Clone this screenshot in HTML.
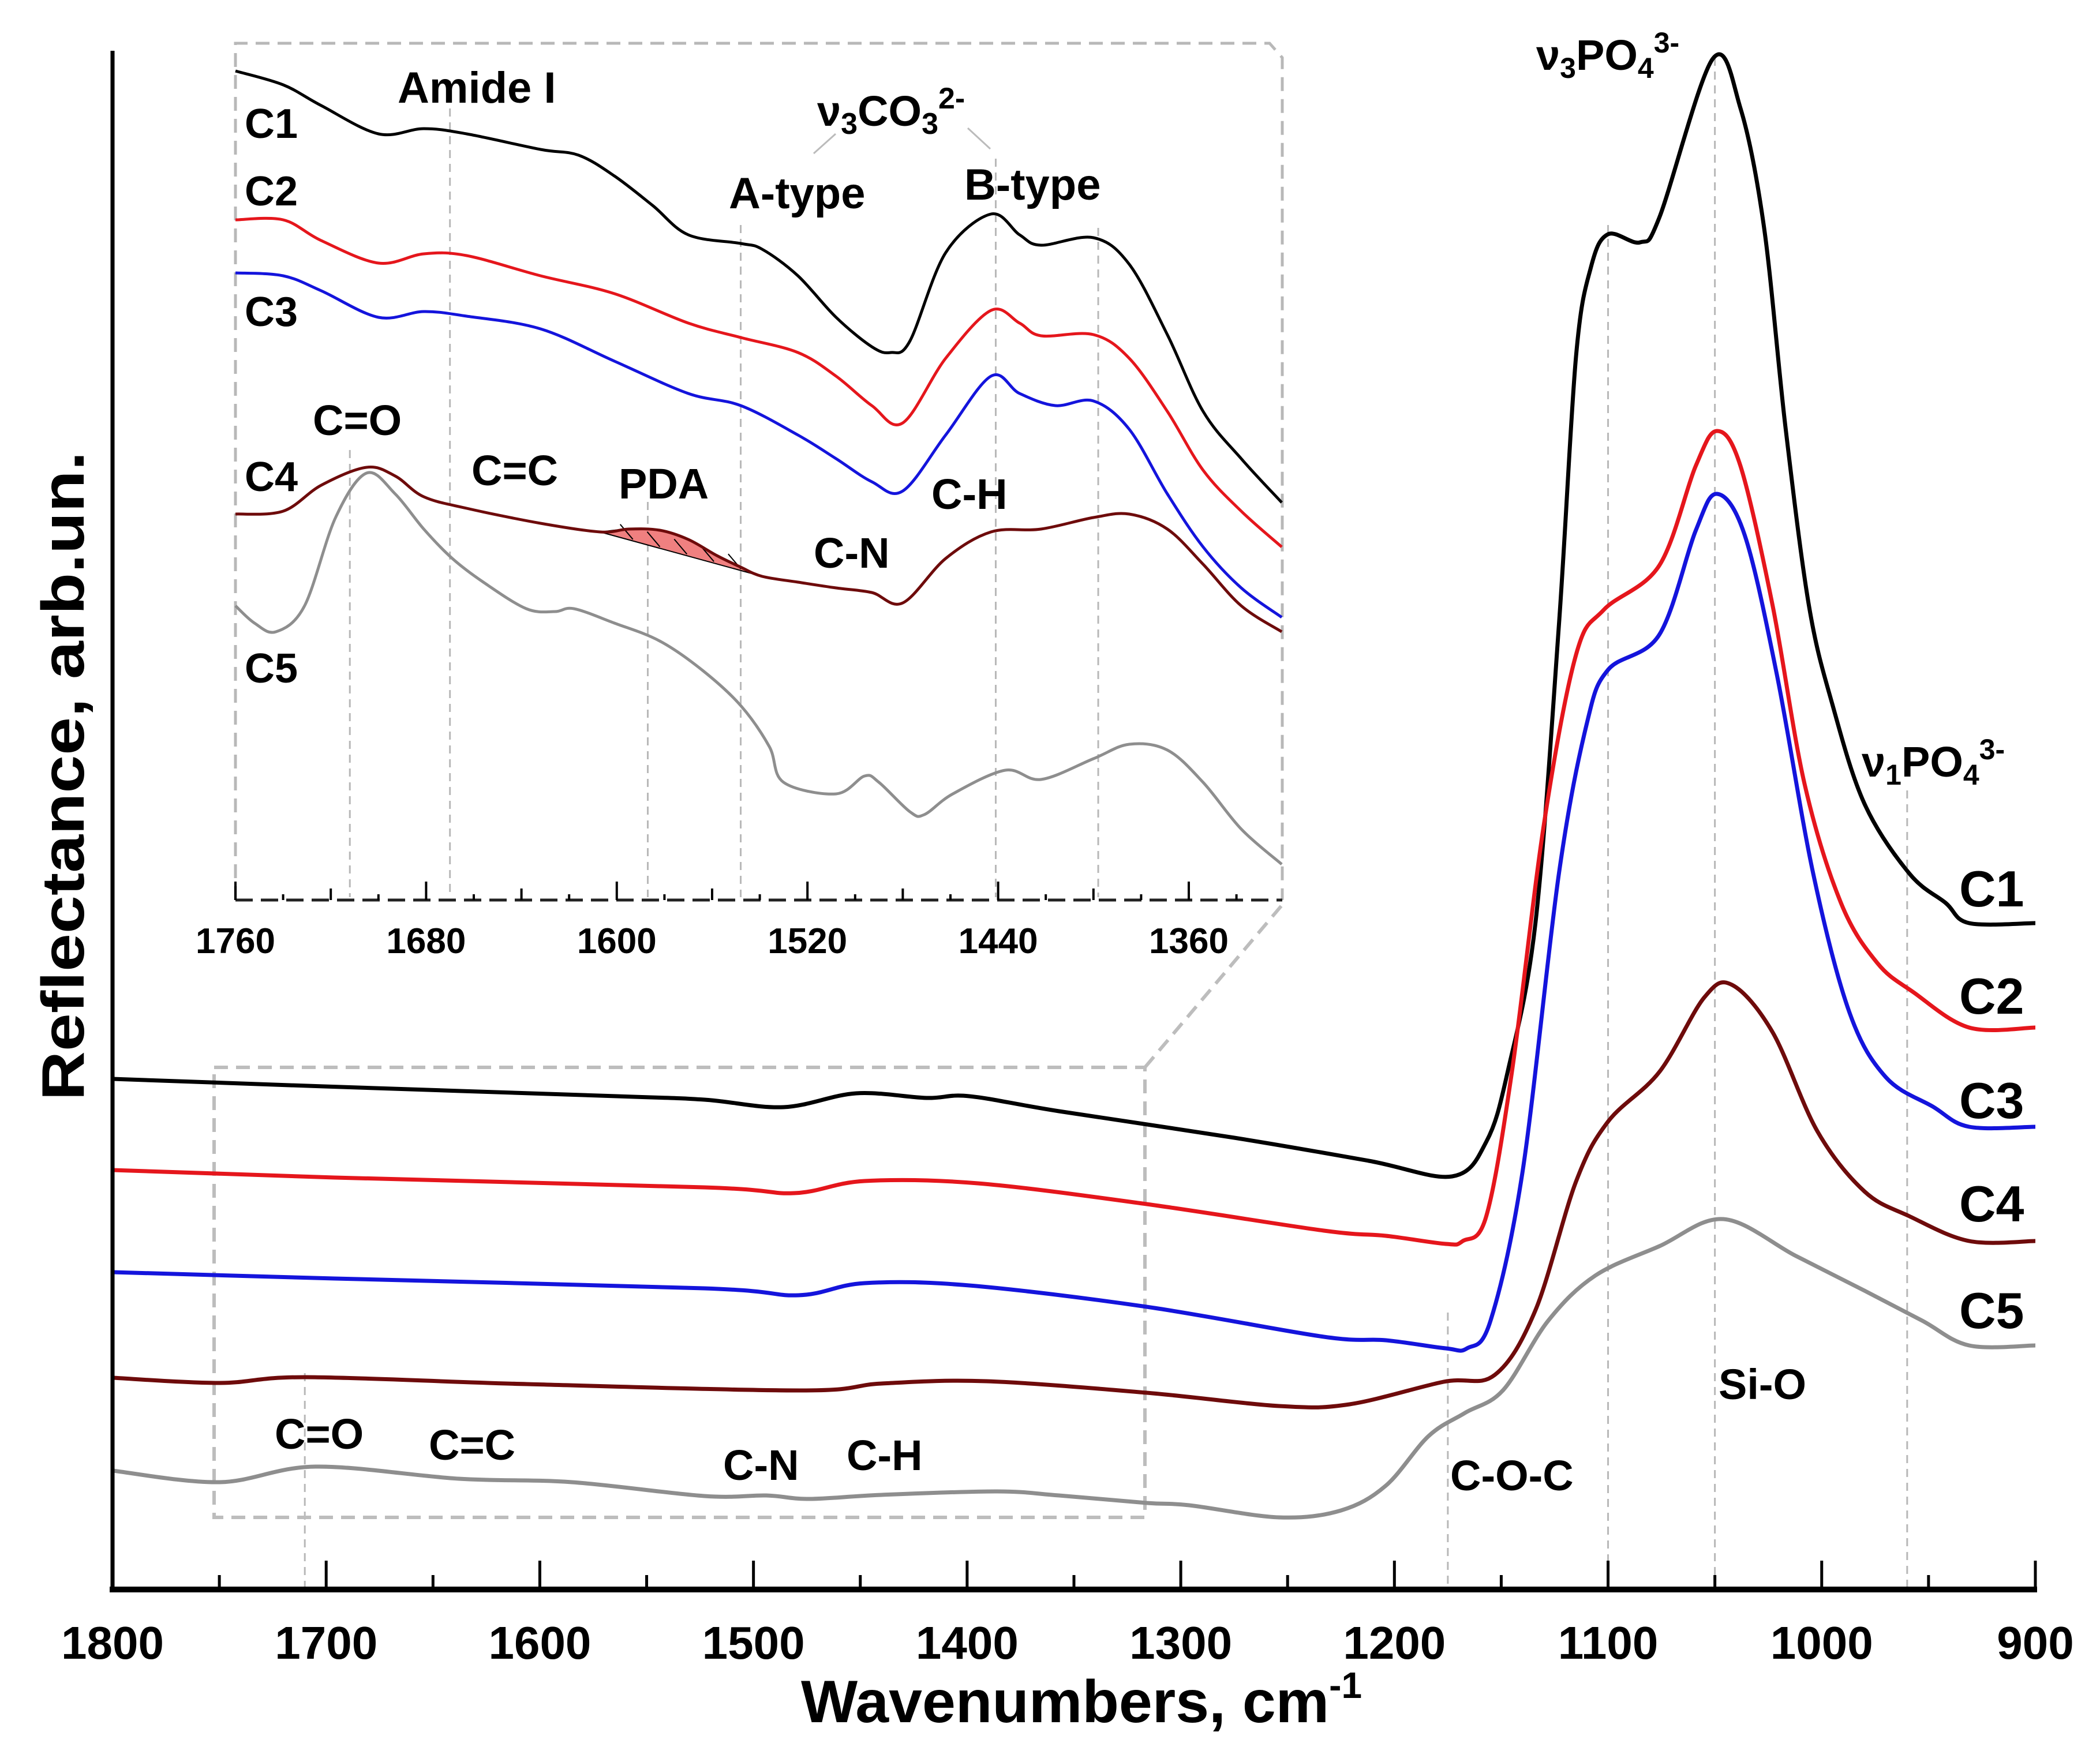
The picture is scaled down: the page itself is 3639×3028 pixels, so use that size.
<!DOCTYPE html>
<html><head><meta charset="utf-8"><style>
html,body{margin:0;padding:0;background:#fff;}
svg{display:block;font-family:"Liberation Sans",Arial,sans-serif;font-weight:bold;}
</style></head><body>
<svg id="chart" width="3639" height="3028" viewBox="0 0 3639 3028" xmlns="http://www.w3.org/2000/svg">
<g id="main"></g><g id="inset"></g>
</svg>
<script>
// ---- main chart data (wavenumber, reflectance arb. units) ----
const c1W=[1800,1701,1564,1523,1486,1452,1419,1399,1357,1275,1212,1173,1157,1147,1134,1123,1115,1108,1100,1085,1076,1051,1038,1027,1017,1006,995,980,959,942,931,900];
const c1V=[88.5,87.2,85.5,84.9,83.6,86.0,85.2,85.5,82.9,78.3,74.3,71.6,77.6,89.7,115.5,167.2,213.7,229.2,234.9,233.5,237.8,265.3,256.7,236.1,201.6,170.6,153.4,136.2,124.1,119.0,115.5,115.5];
const c2W=[1800,1696,1523,1481,1448,1395,1316,1233,1204,1176,1168,1157,1145,1130,1115,1102,1076,1059,1049,1038,1023,1008,991,974,957,931,900];
const c2V=[72.7,71.4,69.7,68.7,70.8,70.4,66.8,62.2,61.3,59.9,60.4,64.7,89.7,132.7,162.0,169.8,177.5,194.7,200.8,194.7,170.6,139.6,119.0,108.6,103.5,97.4,97.4];
const c3W=[1800,1696,1523,1479,1448,1399,1316,1233,1204,1176,1166,1155,1140,1123,1110,1100,1076,1059,1049,1036,1021,1004,987,970,948,931,900];
const c3V=[55.0,53.9,52.2,51.0,53.1,52.7,49.0,43.8,43.2,41.8,41.8,46.6,72.5,124.1,150.0,159.4,165.5,183.5,189.9,182.7,158.6,124.1,100.0,88.8,83.7,80.2,80.2];
const c4W=[1800,1750,1709,1606,1477,1440,1391,1316,1254,1221,1177,1153,1134,1115,1100,1076,1055,1042,1023,1002,980,959,931,900];
const c4V=[36.7,35.8,36.8,35.6,34.5,35.7,36.1,34.1,31.8,32.1,36.0,37.2,48.4,70.7,81.1,89.7,102.6,104.8,96.6,79.4,69.0,64.7,60.4,60.4];
const c5W=[1800,1750,1705,1638,1585,1523,1494,1474,1440,1386,1357,1316,1296,1254,1225,1204,1184,1167,1149,1128,1106,1076,1046,1012,980,953,931,900];
const c5V=[20.6,18.6,21.3,19.2,18.6,16.2,16.3,15.7,16.4,17.0,16.3,15.0,14.6,12.5,13.7,18.0,26.6,30.6,34.6,46.6,54.4,59.5,64.2,57.8,51.8,46.6,42.3,42.3];
const xTicks=[1800,1700,1600,1500,1400,1300,1200,1100,1000,900];
const seriesNames=["C1","C2","C3","C4","C5"];
// ---- inset data ----
const i1W=[1760,1740,1724,1700,1681,1663,1632,1616,1601,1585,1570,1548,1539,1524,1508,1493,1485,1477,1462,1443,1431,1422,1400,1385,1369,1354,1338,1321];
const i1V=[143.7,141.3,137.7,132.8,133.7,132.8,130.1,129.1,125.5,120.4,115.3,113.8,112.8,108.2,101.0,95.9,94.9,96.9,112.2,118.9,115.3,113.5,114.8,110.2,98.0,84.7,76.5,68.9];
const i2W=[1760,1740,1724,1700,1681,1663,1632,1601,1570,1548,1524,1508,1493,1480,1462,1443,1431,1422,1400,1385,1369,1354,1338,1321];
const i2V=[117.9,117.9,114.3,110.4,112.0,111.7,108.2,105.1,100.0,97.5,94.9,90.8,85.7,82.7,93.9,102.2,100.0,97.8,98.0,93.9,84.7,74.5,67.4,61.2];
const i3W=[1760,1740,1724,1700,1681,1663,1632,1601,1570,1548,1524,1508,1493,1480,1462,1443,1431,1416,1400,1385,1369,1354,1338,1321];
const i3V=[108.7,108.2,105.6,101.0,102.0,101.2,99.0,93.4,87.8,85.7,80.6,76.5,72.5,70.9,80.6,90.8,87.8,85.7,86.5,81.6,70.4,61.2,54.1,49.0];
const i4W=[1760,1740,1724,1705,1693,1681,1663,1632,1607,1595,1582,1570,1558,1548,1539,1524,1508,1493,1480,1462,1443,1422,1400,1385,1369,1354,1338,1321];
const i4V=[66.9,67.4,71.9,75.0,73.5,69.9,67.9,65.3,63.8,64.3,64.1,62.5,59.7,57.7,56.1,55.1,54.1,53.3,51.5,59.2,63.8,64.3,66.3,66.9,64.3,58.2,51.0,46.5];
const i5W=[1760,1752,1743,1731,1718,1705,1693,1681,1669,1656,1638,1626,1618,1601,1582,1564,1548,1536,1530,1508,1496,1490,1477,1471,1459,1437,1422,1400,1385,1369,1354,1338,1321];
const i5V=[51.0,48.0,46.5,51.0,66.3,74.0,70.4,64.3,59.2,55.1,50.5,50.0,50.5,48.0,44.9,39.8,33.7,26.6,20.4,18.4,21.5,20.4,15.3,14.8,18.4,22.5,20.9,24.5,27.0,26.0,20.4,12.3,6.2];
const insetTicks=[1760,1680,1600,1520,1440,1360];
const pdaRange=[1607,1539];

const NS="http://www.w3.org/2000/svg";
const colors=["#000000","#e5161c","#1414dc","#6e0b0b","#8e8e8e"];
function X(w){return 195+(1800-w)*3.7022;}
function Y(v){return 2755-v*10;}
function XI(w){return 408+(1760-w)*4.13;}
function YI(v){return 1560-v*10;}
function mk(parent,tag,attrs,name,inter){const e=document.createElementNS(NS,tag);for(const k in attrs)e.setAttribute(k,attrs[k]);


parent.appendChild(e);return e;}
function txt(parent,x,y,s,size,name,extra){const t=mk(parent,'text',Object.assign({x:x,y:y,'font-size':size,fill:'#000'},extra||{}),name,false);t.innerHTML=s;return t;}
function smooth(pts){let d='M'+pts[0][0].toFixed(1)+','+pts[0][1].toFixed(1);
for(let i=0;i<pts.length-1;i++){const p0=pts[Math.max(0,i-1)],p1=pts[i],p2=pts[i+1],p3=pts[Math.min(pts.length-1,i+2)];
const c1x=p1[0]+(p2[0]-p0[0])/6,c1y=p1[1]+(p2[1]-p0[1])/6,c2x=p2[0]-(p3[0]-p1[0])/6,c2y=p2[1]-(p3[1]-p1[1])/6;
d+=' C'+c1x.toFixed(1)+','+c1y.toFixed(1)+' '+c2x.toFixed(1)+','+c2y.toFixed(1)+' '+p2[0].toFixed(1)+','+p2[1].toFixed(1);}return d;}

const main=document.getElementById('main'), inset=document.getElementById('inset');
const dash={stroke:'#b8b8b8','stroke-width':3,'stroke-dasharray':'14,10',fill:'none'};
[[1710,2380],[1175,2275],[1100,390],[1050,100],[960,1370]].forEach((r,i)=>{
 mk(main,'line',Object.assign({x1:X(r[0]),x2:X(r[0]),y1:r[1],y2:2750},dash),'ref-line-'+r[0],false);});
mk(main,'rect',{x:371,y:1850,width:1613,height:780,fill:'none',stroke:'#bdbdbd','stroke-width':6,'stroke-dasharray':'24,14'},'zoom-region-box',false);
mk(main,'line',{x1:1984,y1:1850,x2:2223,y2:1567,stroke:'#bdbdbd','stroke-width':6,'stroke-dasharray':'24,14'},'zoom-connector',false);
const mW=[c1W,c2W,c3W,c4W,c5W],mV=[c1V,c2V,c3V,c4V,c5V];
for(let s=0;s<5;s++){const pts=mW[s].map((w,i)=>[X(w),Y(mV[s][i])]);
 mk(main,'path',{d:smooth(pts),stroke:colors[s],'stroke-width':7,fill:'none','stroke-linejoin':'round'},'series-'+seriesNames[s].toLowerCase(),false);}
const lblY=[1571,1757,1938,2117,2302];
seriesNames.forEach((n,i)=>txt(main,3395,lblY[i],n,88,'label-'+n.toLowerCase()));
mk(main,'line',{x1:195,y1:88,x2:195,y2:2760,stroke:'#000','stroke-width':7},'y-axis',false);
mk(main,'line',{x1:190,y1:2755,x2:3530,y2:2755,stroke:'#000','stroke-width':10},'x-axis',false);
for(let w=1800;w>=900;w-=50){const maj=(w%100===0);
 mk(main,'line',{x1:X(w),x2:X(w),y1:2755,y2:maj?2705:2730,stroke:'#000','stroke-width':5},'x-tick-'+w,false);}
xTicks.forEach(w=>txt(main,X(w),2875,w,80,'x-tick-label-'+w,{'text-anchor':'middle'}));
txt(main,1388,2985,'Wavenumbers, cm<tspan font-size="64" dy="-42">-1</tspan>',104,'x-axis-title',{});
txt(main,0,0,'Reflectance, arb.un.',104,'y-axis-title',{'text-anchor':'middle',textLength:1125,lengthAdjust:'spacingAndGlyphs',transform:'translate(145,1345) rotate(-90)'});
txt(main,2662,121,'ν<tspan font-size="50" dy="14">3</tspan><tspan dy="-14">PO</tspan><tspan font-size="50" dy="14">4</tspan><tspan font-size="50" dy="-44">3-</tspan>',74,'annotation-v3-po4');
txt(main,3226,1346,'ν<tspan font-size="50" dy="14">1</tspan><tspan dy="-14">PO</tspan><tspan font-size="50" dy="14">4</tspan><tspan font-size="50" dy="-44">3-</tspan>',74,'annotation-v1-po4');
txt(main,2978,2425,'Si-O',74,'annotation-si-o');
txt(main,2513,2583,'C-O-C',74,'annotation-c-o-c');
txt(main,476,2511,'C=O',74,'annotation-c-o-main');
txt(main,743,2530,'C=C',74,'annotation-c-c-main');
txt(main,1253,2565,'C-N',74,'annotation-c-n-main');
txt(main,1467,2548,'C-H',74,'annotation-c-h-main');

// ---- inset ----
const bd={stroke:'#b8b8b8','stroke-width':5,'stroke-dasharray':'24,14',fill:'none'};
mk(inset,'path',Object.assign({d:'M408,1560 L408,75 L2200,75 L2222,100 L2222,1560'},bd),'inset-border',false);
[[1712,780],[1670,140],[1587,870],[1548,390],[1441,275],[1398,395]].forEach(r=>{
 mk(inset,'line',Object.assign({x1:XI(r[0]),x2:XI(r[0]),y1:r[1],y2:1555},dash),'inset-ref-line-'+r[0],false);});
mk(inset,'line',{x1:1448,y1:232,x2:1410,y2:266,stroke:'#bbb','stroke-width':3},'co3-pointer-a',false);
mk(inset,'line',{x1:1677,y1:222,x2:1716,y2:258,stroke:'#bbb','stroke-width':3},'co3-pointer-b',false);
const pW=i4W.filter(w=>w<=pdaRange[0]&&w>=pdaRange[1]);
const pts4=pW.map(w=>[XI(w),YI(i4V[i4W.indexOf(w)])]);
mk(inset,'path',{d:smooth(pts4)+' Z',fill:'#f08080',stroke:'#000','stroke-width':2},'pda-area',false);
for(let k=0;k<5;k++){const w=pdaRange[0]-(k+1)*(pdaRange[0]-pdaRange[1])/6;
 const xx=XI(w);const a=pts4[0],b=pts4[pts4.length-1];const yc=a[1]+(b[1]-a[1])*(xx-a[0])/(b[0]-a[0]);
 mk(inset,'line',{x1:xx-12,y1:yc-26,x2:xx+10,y2:yc,stroke:'#000','stroke-width':2},'pda-hatch',false);}
const iW=[i1W,i2W,i3W,i4W,i5W],iV=[i1V,i2V,i3V,i4V,i5V];
for(let s=0;s<5;s++){const pts=iW[s].map((w,i)=>[XI(w),YI(iV[s][i])]);
 mk(inset,'path',{d:smooth(pts),stroke:colors[s],'stroke-width':5,fill:'none'},'inset-series-'+seriesNames[s].toLowerCase(),false);}
mk(inset,'line',{x1:408,y1:1560,x2:2222,y2:1560,stroke:'#222','stroke-width':5,'stroke-dasharray':'30,14'},'inset-x-axis',false);
for(let w=1760;w>=1330;w-=20){const maj=(w%80===0);const mid=(w%40===0);
 mk(inset,'line',{x1:XI(w),x2:XI(w),y1:1560,y2:maj?1528:(mid?1540:1550),stroke:'#000','stroke-width':4},'inset-tick-'+w,false);}
insetTicks.forEach(w=>txt(inset,XI(w),1652,w,62,'inset-tick-label-'+w,{'text-anchor':'middle'}));
const ilY=[239,356,565,851,1183];
seriesNames.forEach((n,i)=>txt(inset,424,ilY[i],n,72,'inset-label-'+n.toLowerCase()));
txt(inset,689,178,'Amide I',76,'inset-annotation-amide-i');
txt(inset,1416,218,'ν<tspan font-size="52" dy="14">3</tspan><tspan dy="-14">CO</tspan><tspan font-size="52" dy="14">3</tspan><tspan font-size="52" dy="-44">2-</tspan>',74,'inset-annotation-v3-co3');
txt(inset,1263,361,'A-type',76,'inset-annotation-a-type');
txt(inset,1671,346,'B-type',76,'inset-annotation-b-type');
txt(inset,542,754,'C=O',74,'inset-annotation-c-o');
txt(inset,817,841,'C=C',74,'inset-annotation-c-c');
txt(inset,1072,864,'PDA',74,'inset-annotation-pda');
txt(inset,1410,984,'C-N',74,'inset-annotation-c-n');
txt(inset,1614,882,'C-H',74,'inset-annotation-c-h');
</script>
</body></html>
